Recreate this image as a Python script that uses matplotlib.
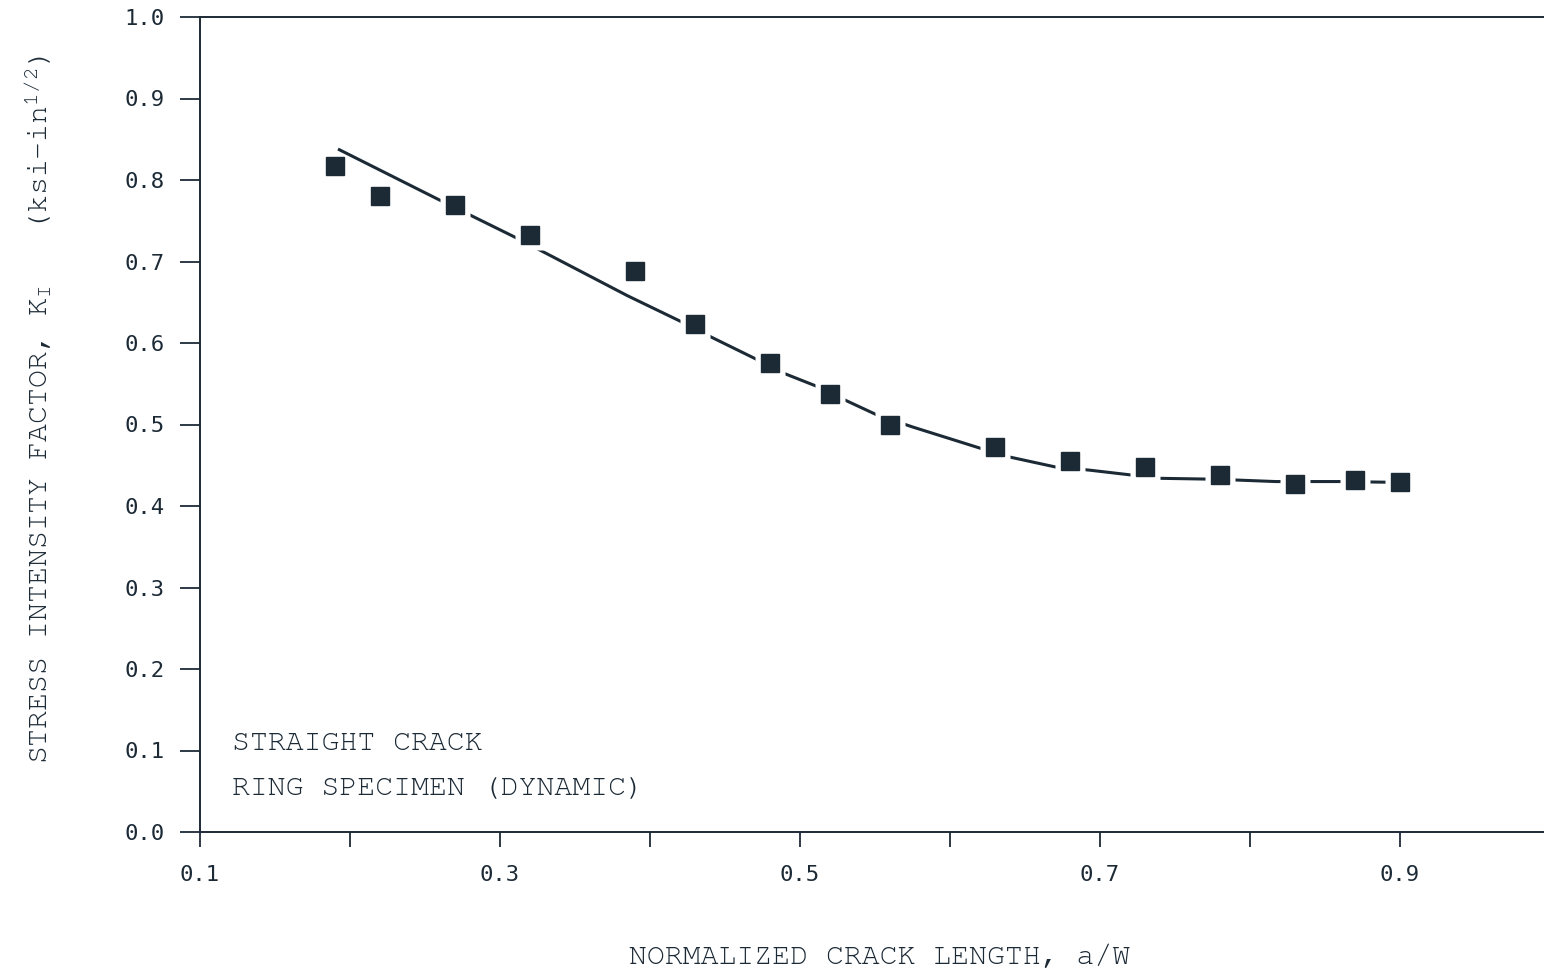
import numpy as np
import matplotlib
matplotlib.use("Agg")
import matplotlib.pyplot as plt
from matplotlib import font_manager

# Measured stress intensity factors (square markers)
crack_ratio = [0.19, 0.22, 0.27, 0.32, 0.39, 0.43, 0.48, 0.52, 0.56,
               0.63, 0.68, 0.73, 0.78, 0.83, 0.87, 0.90]
k_measured = [0.817, 0.780, 0.769, 0.732, 0.688, 0.623, 0.576, 0.537, 0.499,
              0.473, 0.455, 0.448, 0.438, 0.427, 0.432, 0.429]

# Fitted curve
curve_ratio = [0.192, 0.258, 0.312, 0.385, 0.421, 0.440, 0.471, 0.489, 0.511,
               0.530, 0.551, 0.575, 0.620, 0.640, 0.670, 0.693, 0.721, 0.739,
               0.772, 0.789, 0.817, 0.841, 0.860, 0.899]
k_curve = [0.838, 0.777, 0.728, 0.658, 0.626, 0.608, 0.580, 0.563, 0.547,
           0.530, 0.512, 0.497, 0.471, 0.460, 0.448, 0.444, 0.438, 0.434,
           0.433, 0.432, 0.430, 0.430, 0.430, 0.429]

x_ticks = [0.1, 0.2, 0.3, 0.4, 0.5, 0.6, 0.7, 0.8, 0.9]
x_tick_labels = ["0.1", "", "0.3", "", "0.5", "", "0.7", "", "0.9"]
y_ticks = [0.0, 0.1, 0.2, 0.3, 0.4, 0.5, 0.6, 0.7, 0.8, 0.9, 1.0]
y_tick_labels = ["0.0", "0.1", "0.2", "0.3", "0.4", "0.5", "0.6", "0.7",
                 "0.8", "0.9", "1.0"]


def first_available(families, default):
    for fam in families:
        try:
            font_manager.findfont(font_manager.FontProperties(family=fam),
                                  fallback_to_default=False)
            return fam
        except ValueError:
            continue
    return default


INK = "#1c2a36"
TEXT_FONT = first_available(["Nimbus Mono PS", "Courier New", "FreeMono",
                             "Courier"], "Liberation Mono")
NUM_FONT = "DejaVu Sans Mono"
TEXT_SIZE = 21.5

plt.rcParams["mathtext.fontset"] = "custom"
plt.rcParams["mathtext.rm"] = TEXT_FONT
plt.rcParams["mathtext.it"] = TEXT_FONT

fig = plt.figure(figsize=(15.44, 9.77), dpi=100)
fig.patch.set_facecolor("white")
ax = fig.add_axes([200 / 1544, 145 / 977, 1350 / 1544, 815 / 977])

ax.plot(curve_ratio, k_curve, color=INK, lw=2.2, zorder=2,
        solid_capstyle="butt")

# the curve is broken around the points that sit on it
px = np.array(crack_ratio)
py = np.array(k_measured)
on_curve = np.abs(np.interp(px, curve_ratio, k_curve) - py) < 0.015
ax.plot(px[on_curve], py[on_curve], ls="none", marker="s", ms=21,
        mfc="white", mec="none", zorder=3)
ax.plot(px, py, ls="none", marker="s", ms=13.5,
        mfc=INK, mec=INK, zorder=4)

ax.set_xlim(0.1, 1.0)
ax.set_ylim(0.0, 1.0)
ax.set_xticks(x_ticks)
ax.set_xticklabels(x_tick_labels, fontfamily=NUM_FONT, fontsize=16, color=INK)
ax.set_yticks(y_ticks)
ax.set_yticklabels(y_tick_labels, fontfamily=NUM_FONT, fontsize=16, color=INK)

ax.tick_params(axis="x", direction="out", length=11, width=1.3, pad=13,
               colors=INK)
ax.tick_params(axis="y", direction="out", length=14.5, width=1.3, pad=11,
               colors=INK)

for side in ("left", "bottom", "top"):
    ax.spines[side].set_color(INK)
    ax.spines[side].set_linewidth(1.4)
ax.spines["right"].set_visible(False)

fig.text(880 / 1544, 1 - 958 / 977, "NORMALIZED CRACK LENGTH, a/W",
         ha="center", va="center", fontfamily=TEXT_FONT, fontsize=TEXT_SIZE,
         color=INK)
fig.text(38 / 1544, 1 - 410 / 977,
         r"STRESS INTENSITY FACTOR, K$_\mathrm{I}$   (ksi-in$^\mathrm{1/2}$)",
         ha="center", va="center", rotation=90, fontfamily=TEXT_FONT,
         fontsize=TEXT_SIZE, color=INK)

fig.text(232 / 1544, 1 - 744 / 977, "STRAIGHT CRACK", ha="left",
         va="center", fontfamily=TEXT_FONT, fontsize=TEXT_SIZE, color=INK)
fig.text(232 / 1544, 1 - 789 / 977, "RING SPECIMEN (DYNAMIC)", ha="left",
         va="center", fontfamily=TEXT_FONT, fontsize=TEXT_SIZE, color=INK)

fig.savefig("out.png", dpi=100, facecolor="white")
